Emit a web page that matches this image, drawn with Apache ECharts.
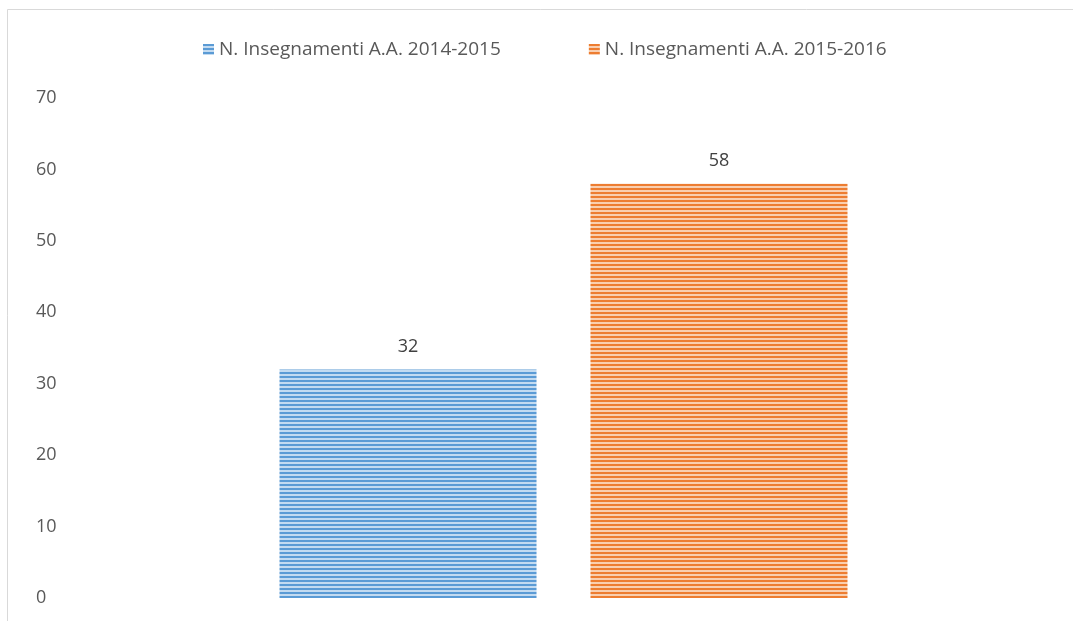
<!DOCTYPE html>
<html>
<head>
    <meta charset="utf-8" />
    <title>Insegnamenti</title>
    <script src="https://cdn.jsdelivr.net/npm/echarts@6/dist/echarts.min.js"></script>
</head>
<body style="margin:0;padding:0;background:#ffffff;">
    <div id="main" style="width:1073px;height:621px;"></div>
    <script type="text/javascript">
        // dati
        var categories = [''];
        var seriesNames = ['N. Insegnamenti A.A. 2014-2015', 'N. Insegnamenti A.A. 2015-2016'];
        var values2014 = [32];
        var values2015 = [58];
        var yTicks = [0, 10, 20, 30, 40, 50, 60, 70];

        // riempimento a righe orizzontali
        function makeStripes(dark, light) {
            var c = document.createElement('canvas');
            c.width = 8;
            c.height = 4;
            var ctx = c.getContext('2d');
            ctx.fillStyle = light;
            ctx.fillRect(0, 0, 8, 4);
            ctx.fillStyle = dark;
            ctx.fillRect(0, 0, 8, 2);
            return { image: c, repeat: 'repeat' };
        }
        var bluePattern = makeStripes('#5b9bd5', '#c3dbf1');
        var orangePattern = makeStripes('#ed7d31', '#f9cfb0');

        var font = 'Open Sans';
        var chart = echarts.init(document.getElementById('main'));
        var option = {
            backgroundColor: '#ffffff',
            animation: false,
            textStyle: { fontFamily: font },
            legend: {
                top: 35,
                left: 198,
                itemGap: 88,
                itemWidth: 11,
                itemHeight: 11,
                itemTextGap: 4,
                icon: 'rect',
                textStyle: { color: '#595959', fontSize: 19, fontFamily: font },
                data: [
                    { name: seriesNames[0], itemStyle: { color: bluePattern } },
                    { name: seriesNames[1], itemStyle: { color: orangePattern } }
                ]
            },
            grid: {
                left: 64,
                right: 10,
                top: 98,
                bottom: 23
            },
            xAxis: {
                type: 'category',
                data: categories,
                axisLine: { show: false },
                axisTick: { show: false },
                axisLabel: { show: false }
            },
            yAxis: {
                type: 'value',
                min: yTicks[0],
                max: yTicks[yTicks.length - 1],
                interval: 10,
                axisLine: { show: false },
                axisTick: { show: false },
                splitLine: { show: false },
                axisLabel: {
                    align: 'left',
                    margin: 28,
                    color: '#595959',
                    fontSize: 18,
                    fontFamily: font
                }
            },
            graphic: [
                { type: 'line', shape: { x1: 7.5, y1: 9.5, x2: 1073, y2: 9.5 }, style: { stroke: '#d9d9d9', lineWidth: 1 } },
                { type: 'line', shape: { x1: 7.5, y1: 9.5, x2: 7.5, y2: 621 }, style: { stroke: '#d9d9d9', lineWidth: 1 } }
            ],
            series: [
                {
                    name: seriesNames[0],
                    type: 'bar',
                    data: values2014,
                    barWidth: 257,
                    barGap: '21%',
                    itemStyle: { color: bluePattern },
                    label: { show: true, position: 'top', distance: 14, color: '#404040', fontSize: 18, fontFamily: font }
                },
                {
                    name: seriesNames[1],
                    type: 'bar',
                    data: values2015,
                    barWidth: 257,
                    itemStyle: { color: orangePattern },
                    label: { show: true, position: 'top', distance: 14, color: '#404040', fontSize: 18, fontFamily: font }
                }
            ]
        };
        chart.setOption(option);
    </script>
</body>
</html>
